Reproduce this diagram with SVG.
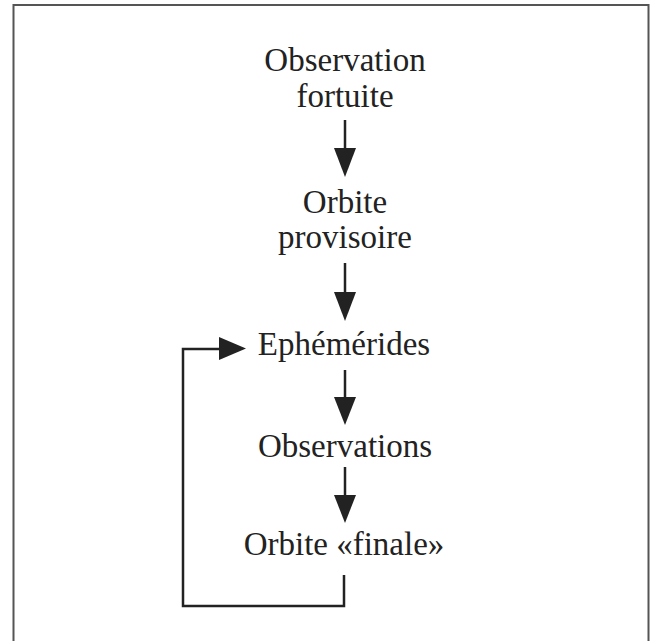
<svg xmlns="http://www.w3.org/2000/svg" width="651" height="641" viewBox="0 0 651 641">
<style>
.t{font-family:"Liberation Serif","Times New Roman",serif;font-size:33px;fill:#222;text-anchor:middle}
.c{stroke:#222;stroke-width:2.5;fill:none}
.h{fill:#222;stroke:none}
</style>
<rect x="0" y="0" width="651" height="641" fill="#fff"/>
<rect x="13.5" y="5" width="635" height="650" fill="none" stroke="#555" stroke-width="2"/>
<g id="n1"><text class="t" x="345" y="71">Observation</text><text class="t" x="345" y="107">fortuite</text></g>
<g id="n2"><text class="t" x="345" y="213">Orbite</text><text class="t" x="345" y="248">provisoire</text></g>
<g id="n3"><text class="t" x="344" y="355">Ephémérides</text></g>
<g id="n4"><text class="t" x="345" y="457">Observations</text></g>
<g id="n5"><text class="t" x="344" y="555">Orbite «finale»</text></g>
<g id="connectors">
<line class="c" x1="345" y1="120" x2="345" y2="150"/>
<polygon class="h" points="334,148 356,148 345,177"/>
<line class="c" x1="345" y1="263" x2="345" y2="294"/>
<polygon class="h" points="334,292 356,292 345,321"/>
<line class="c" x1="345" y1="370" x2="345" y2="399"/>
<polygon class="h" points="334,397 356,397 345,425"/>
<line class="c" x1="345" y1="467" x2="345" y2="497"/>
<polygon class="h" points="334,495 356,495 345,523"/>
<polyline class="c" points="344,575 344,606 183,606 183,349 221,349"/>
<polygon class="h" points="219,337 219,360 246,348.5"/>
</g>
</svg>
